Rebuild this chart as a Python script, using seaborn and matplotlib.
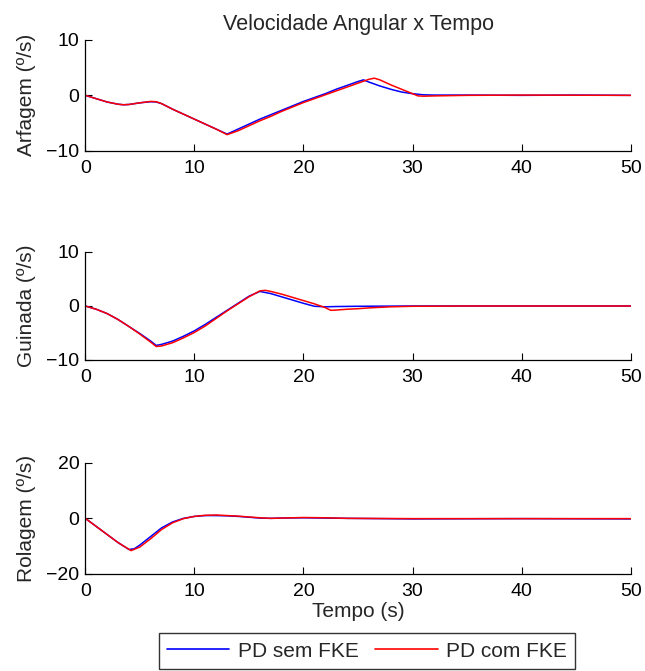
import matplotlib
matplotlib.use("Agg")
import matplotlib.pyplot as plt
import seaborn as sns
import pandas as pd

# ---- data ----
t_arf_sem = [0, 1, 2, 3, 3.5, 4, 5, 6, 6.5, 7, 8, 9, 10, 11, 12, 13, 14, 15, 16, 17, 18, 19, 20, 21, 22, 23, 24, 25, 25.5, 26, 27, 28, 29, 30, 31, 32, 35, 40, 45, 50]
v_arf_sem = [0, -0.6, -1.2, -1.6, -1.7, -1.65, -1.35, -1.15, -1.2, -1.5, -2.5, -3.4, -4.3, -5.2, -6.1, -7.0, -6.1, -5.2, -4.3, -3.5, -2.7, -1.9, -1.1, -0.4, 0.3, 1.1, 1.8, 2.5, 2.8, 2.4, 1.7, 1.1, 0.6, 0.3, 0.1, 0.05, 0.05, 0, 0.05, 0]
t_arf_com = [0, 1, 2, 3, 3.5, 4, 5, 6, 6.5, 7, 8, 9, 10, 11, 12, 13, 14, 15, 16, 17, 18, 19, 20, 21, 22, 23, 24, 25, 26, 26.5, 27, 28, 29, 30, 30.5, 31, 32, 35, 40, 50]
v_arf_com = [0, -0.6, -1.2, -1.6, -1.7, -1.65, -1.35, -1.1, -1.15, -1.5, -2.5, -3.4, -4.3, -5.2, -6.1, -7.1, -6.4, -5.5, -4.6, -3.8, -2.9, -2.1, -1.3, -0.6, 0.1, 0.8, 1.5, 2.2, 2.9, 3.1, 2.8, 1.9, 1.1, 0.3, -0.1, -0.15, -0.1, 0, 0.05, 0]

t_gui_sem = [0, 1, 2, 3, 4, 5, 6, 6.5, 7, 8, 9, 10, 11, 12, 13, 14, 15, 16, 17, 18, 19, 20, 21, 22, 23, 25, 30, 50]
v_gui_sem = [0, -0.6, -1.4, -2.5, -3.8, -5.1, -6.5, -7.3, -7.1, -6.5, -5.6, -4.6, -3.4, -2.1, -0.8, 0.5, 1.8, 2.7, 2.3, 1.7, 1.1, 0.5, -0.05, -0.15, -0.1, -0.05, 0, 0]
t_gui_com = [0, 1, 2, 3, 4, 5, 6, 6.5, 7, 8, 9, 10, 11, 12, 13, 14, 15, 16, 16.5, 17, 18, 19, 20, 21, 22, 22.5, 23, 24, 25, 26, 28, 30, 35, 50]
v_gui_com = [0, -0.6, -1.4, -2.5, -3.8, -5.2, -6.7, -7.5, -7.4, -6.8, -5.9, -4.9, -3.7, -2.3, -0.9, 0.4, 1.7, 2.8, 2.9, 2.7, 2.2, 1.6, 1.0, 0.4, -0.3, -0.8, -0.75, -0.6, -0.5, -0.35, -0.15, -0.05, 0, 0]

t_rol_sem = [0, 1, 2, 3, 4, 4.5, 5, 6, 7, 8, 9, 10, 11, 12, 13, 14, 15, 16, 17, 18, 20, 22, 24, 30, 40, 50]
v_rol_sem = [0, -2.9, -5.8, -8.7, -11.2, -10.9, -9.6, -6.5, -3.4, -1.3, 0, 0.7, 1.0, 1.0, 0.9, 0.7, 0.4, 0.1, 0, 0.1, 0.2, 0.1, 0, -0.2, -0.1, -0.2]
t_rol_com = [0, 1, 2, 3, 4.2, 5, 6, 7, 8, 9, 10, 11, 12, 13, 14, 15, 16, 17, 18, 20, 22, 24, 30, 40, 50]
v_rol_com = [0, -2.9, -5.8, -8.7, -11.6, -10.3, -7.3, -4.0, -1.6, -0.1, 0.7, 1.1, 1.2, 1.0, 0.8, 0.5, 0.2, 0, 0.1, 0.3, 0.2, 0, -0.1, -0.1, -0.1]

ylabels = ["Arfagem (º/s)", "Guinada (º/s)", "Rolagem (º/s)"]
ylims = [(-10, 10), (-10, 10), (-20, 20)]
yticks = [[-10, 0, 10], [-10, 0, 10], [-20, 0, 20]]
xticks = [0, 10, 20, 30, 40, 50]
series_names = ["PD sem FKE", "PD com FKE"]
colors = ["#0000ff", "#ff0000"]

sns.set_style("ticks")
plt.rcParams['font.family'] = ['Liberation Sans', 'DejaVu Sans']
plt.rcParams['axes.unicode_minus'] = True

fig = plt.figure(figsize=(6.45, 6.71), dpi=100)
W, H = 645, 671
def axpos(top_px, bot_px, left_px=85.3, right_px=630.7):
    return [left_px / W, 1 - bot_px / H, (right_px - left_px) / W, (bot_px - top_px) / H]

positions = [axpos(40, 150.7), axpos(252, 360), axpos(462.7, 574)]
data = [
    (t_arf_sem, v_arf_sem, t_arf_com, v_arf_com),
    (t_gui_sem, v_gui_sem, t_gui_com, v_gui_com),
    (t_rol_sem, v_rol_sem, t_rol_com, v_rol_com),
]

handles = None
for i, (pos, (ts, vs, tc, vc)) in enumerate(zip(positions, data)):
    ax = fig.add_axes(pos)
    df = pd.concat([
        pd.DataFrame({"t": ts, "v": vs, "s": series_names[0]}),
        pd.DataFrame({"t": tc, "v": vc, "s": series_names[1]}),
    ])
    sns.lineplot(data=df, x="t", y="v", hue="s", palette=colors, hue_order=series_names,
                 estimator=None, sort=False, linewidth=1.1, ax=ax, legend=True)
    h, l = ax.get_legend_handles_labels()
    handles = (h, l)
    ax.get_legend().remove()
    ax.set_xlim(0, 50)
    ax.set_ylim(*ylims[i])
    ax.set_xticks(xticks)
    ax.set_yticks(yticks[i])
    ax.tick_params(direction="in", length=5, width=0.8, labelsize=14, colors="black")
    ax.tick_params(axis="x", pad=6.5)
    ax.tick_params(axis="y", pad=4.3)
    for sp in ["top", "right"]:
        ax.spines[sp].set_visible(False)
    for sp in ["left", "bottom"]:
        ax.spines[sp].set_linewidth(0.9)
        ax.spines[sp].set_color("black")
    ax.set_ylabel(ylabels[i], fontsize=15, labelpad=7)
    ax.set_xlabel("")
    if i == 0:
        ax.set_title("Velocidade Angular x Tempo", fontsize=15.5, pad=7)
    if i == 2:
        ax.set_xlabel("Tempo (s)", fontsize=15, labelpad=1.5)

h, l = handles
leg = fig.legend(h, l, loc="lower center", bbox_to_anchor=(367 / W, 2 / H), ncol=2,
                 fontsize=15, frameon=True, fancybox=False, edgecolor="black",
                 handlelength=3.0, columnspacing=0.8, borderpad=0.4, handletextpad=0.4,
                 borderaxespad=0)
leg.get_frame().set_linewidth(1.0)
for lh in leg.get_lines():
    lh.set_linewidth(1.2)

fig.savefig("out.png", dpi=100)
